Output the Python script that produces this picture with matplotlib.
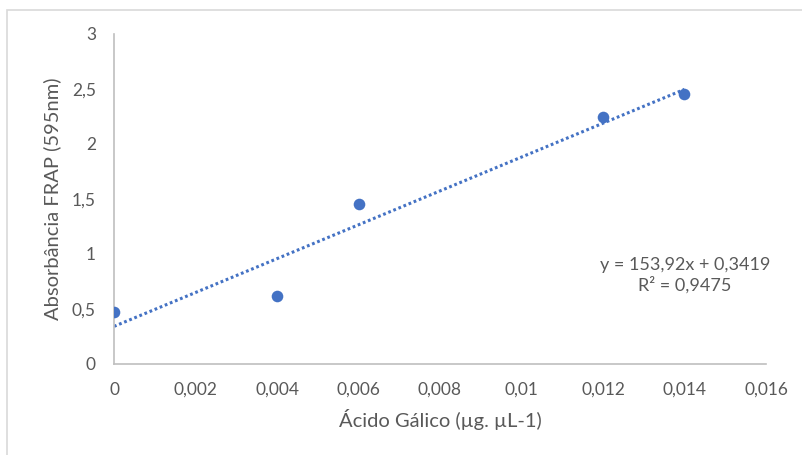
import numpy as np
import matplotlib.pyplot as plt
from matplotlib.ticker import FuncFormatter
from matplotlib.patches import Rectangle

# data
conc = [0.0, 0.004, 0.006, 0.012, 0.014]
absorb = [0.475, 0.615, 1.455, 2.248, 2.457]
slope = 153.92
intercept = 0.3419
r2 = 0.9475
x_ticks = [0, 0.002, 0.004, 0.006, 0.008, 0.01, 0.012, 0.014, 0.016]
y_ticks = [0, 0.5, 1, 1.5, 2, 2.5, 3]

blue = "#4472C4"
grey_txt = "#595959"
plt.rcParams['font.family'] = ['Lato', 'DejaVu Sans']

fig = plt.figure(figsize=(8.03, 4.55), dpi=100)
ax = fig.add_axes([114/803, 91/455, 652/803, 330/455])

# chart border like excel
fig.patches.append(Rectangle((7/803, -0.05), 1.1, (445/455) + 0.05,
                             transform=fig.transFigure, fill=False,
                             ec="#d9d9d9", lw=1.2))

ax.scatter(conc, absorb, s=70, color=blue, zorder=3, linewidths=0)

xt = np.array([min(conc), max(conc)])
ax.plot(xt, slope * xt + intercept, color=blue, lw=2.2,
        linestyle=(0, (0.9, 0.9)), dash_capstyle="butt", zorder=2)

ax.set_xlim(0, 0.016)
ax.set_ylim(0, 3)
ax.set_xticks(x_ticks)
ax.set_yticks(y_ticks)
fmt = FuncFormatter(lambda v, p: ("%g" % v).replace(".", ","))
ax.xaxis.set_major_formatter(fmt)
ax.yaxis.set_major_formatter(fmt)
ax.tick_params(length=0, labelsize=12.5, labelcolor=grey_txt)
ax.tick_params(axis="x", pad=13)
ax.tick_params(axis="y", pad=13)

for s in ["top", "right"]:
    ax.spines[s].set_visible(False)
for s in ["left", "bottom"]:
    ax.spines[s].set_color("#bfbfbf")
    ax.spines[s].set_linewidth(1.2)

ax.set_xlabel("Ácido Gálico (µg. µL-1)", fontsize=14.5, color=grey_txt, labelpad=8)
ax.set_ylabel("Absorbância FRAP (595nm)", fontsize=14.5, color=grey_txt, labelpad=8)

eq = "y = %sx + %s\nR² = %s" % (("%g" % slope).replace(".", ","),
                                 ("%g" % intercept).replace(".", ","),
                                 ("%g" % r2).replace(".", ","))
ax.text(0.01401, 0.805, eq, ha="center", va="center", fontsize=13,
        color=grey_txt, linespacing=1.2)

fig.savefig("out.png", dpi=100)
